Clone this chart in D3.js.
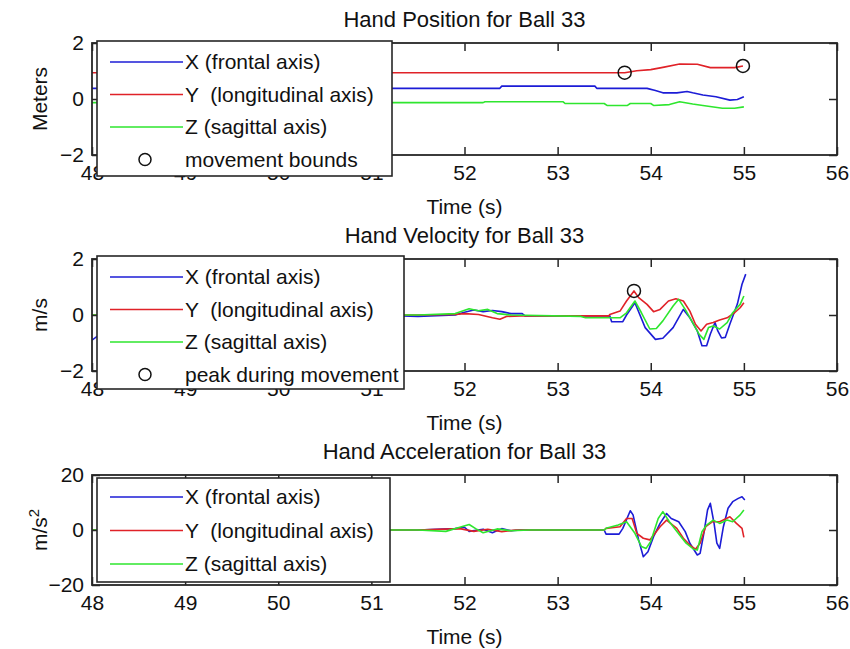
<!DOCTYPE html>
<html>
<head>
<meta charset="utf-8">
<script src="https://cdn.jsdelivr.net/npm/d3@7"></script>
<style>
  html, body { margin: 0; padding: 0; background: #fff; }
  svg { display: block; }
  text { font-family: "Liberation Sans", Arial, Helvetica, sans-serif; fill: #111; white-space: pre; }
</style>
</head>
<body>
<svg id="fig" width="850" height="649"></svg>
<script>
// ---- time axis (seconds) ----
const timeDomain = [48, 56];
const timeTicks = [48, 49, 50, 51, 52, 53, 54, 55, 56];

// ---- hand position (m): [time, value] ----
const posX = [[48,0.38],[52.38,0.38],[52.4,0.46],[53.4,0.46],[53.42,0.38],[53.96,0.38],[54.05,0.3],[54.13,0.22],[54.28,0.22],[54.39,0.27],[54.45,0.22],[54.56,0.14],[54.7,0.08],[54.85,-0.04],[54.93,-0.02],[55.0,0.08]];
const posY = [[48,0.94],[53.72,0.94],[53.85,1.01],[54.0,1.05],[54.13,1.13],[54.31,1.25],[54.5,1.24],[54.64,1.12],[54.9,1.12],[54.99,1.18]];
const posZ = [[48,-0.13],[52.2,-0.13],[52.22,-0.1],[53.06,-0.1],[53.08,-0.16],[53.5,-0.16],[53.53,-0.23],[53.75,-0.23],[53.78,-0.16],[54.0,-0.16],[54.03,-0.23],[54.2,-0.2],[54.31,-0.1],[54.45,-0.18],[54.56,-0.23],[54.77,-0.33],[54.9,-0.33],[55.0,-0.28]];
// movement start / end, marked on the Y trace
const boundsMarks = [[53.72,0.94],[54.99,1.18]];

// ---- hand velocity (m/s) ----
const velX = [[48,-0.9],[48.2,-0.4],[48.5,0],[51.0,0],[51.5,-0.05],[51.9,0],[52.0,0.1],[52.1,0.18],[52.2,0.12],[52.3,0.16],[52.4,0.12],[52.5,0.05],[52.62,0.05],[52.65,-0.03],[53.56,-0.03],[53.58,-0.24],[53.7,-0.24],[53.74,0.0],[53.83,0.44],[53.94,-0.45],[54.05,-0.87],[54.13,-0.83],[54.24,-0.45],[54.35,0.2],[54.42,-0.1],[54.5,-0.57],[54.55,-1.1],[54.6,-1.1],[54.64,-0.68],[54.69,-0.27],[54.72,-0.57],[54.76,-0.82],[54.8,-0.8],[54.85,-0.32],[54.93,0.39],[54.98,1.1],[55.02,1.46]];
const velY = [[48,0],[51.5,0],[51.9,0.02],[52.0,0.05],[52.15,0.02],[52.3,-0.1],[52.38,-0.15],[52.45,-0.05],[52.6,-0.03],[53.55,-0.03],[53.56,0.02],[53.67,0.14],[53.74,0.5],[53.82,0.86],[53.87,0.62],[53.96,0.38],[54.03,0.12],[54.1,0.2],[54.19,0.5],[54.27,0.58],[54.35,0.5],[54.42,0.14],[54.48,-0.33],[54.54,-0.57],[54.6,-0.33],[54.67,-0.27],[54.74,-0.18],[54.82,-0.1],[54.9,0.08],[54.96,0.26],[55.0,0.44]];
const velZ = [[48,0],[51.5,0],[51.9,0.05],[52.05,0.22],[52.15,0.15],[52.25,0.2],[52.35,0.05],[52.5,0],[53.25,-0.05],[53.3,-0.1],[53.55,-0.1],[53.67,-0.1],[53.74,0.08],[53.83,0.5],[53.9,0.08],[53.99,-0.5],[54.06,-0.48],[54.13,-0.21],[54.24,0.32],[54.3,0.56],[54.37,0.2],[54.45,-0.27],[54.52,-0.69],[54.57,-0.87],[54.62,-0.45],[54.67,-0.39],[54.74,-0.5],[54.82,-0.27],[54.88,0.08],[54.96,0.38],[55.0,0.68]];
// peak speed during the movement
const peakMarks = [[53.82,0.86]];

// ---- hand acceleration (m/s^2) ----
const accX = [[48,0],[51.5,0],[51.9,0.5],[52.0,1],[52.05,-0.5],[52.2,0.3],[52.3,-1],[52.4,0.5],[52.5,-0.3],[52.6,0],[53.5,0],[53.52,-1.5],[53.66,-1.5],[53.7,0.6],[53.78,7],[53.81,5.5],[53.87,-3.6],[53.92,-9.7],[53.97,-7.9],[54.03,-2.4],[54.1,2.4],[54.17,6],[54.22,4.2],[54.3,3],[54.37,-0.6],[54.42,-4.8],[54.5,-9.1],[54.53,-8.5],[54.57,-1.2],[54.61,7.3],[54.64,9.7],[54.68,2.4],[54.71,-4.8],[54.74,-6.7],[54.78,1.2],[54.83,7.9],[54.88,10.3],[54.94,11.5],[54.98,12.1],[55.01,10.9]];
const accY = [[48,0],[51.5,0],[51.95,0.5],[52.1,-0.5],[52.25,0.3],[52.4,-0.6],[52.55,0],[53.5,0],[53.52,0.6],[53.67,1.2],[53.74,4.2],[53.8,4.2],[53.85,-1.2],[53.92,-3],[53.99,-3.6],[54.1,1.2],[54.17,3.6],[54.28,0.6],[54.35,-3],[54.42,-5.5],[54.48,-7],[54.53,-4.8],[54.59,1.2],[54.66,3],[54.74,3],[54.85,4.8],[54.92,2.4],[54.98,0.6],[55.0,-2.7]];
const accZ = [[48,0],[51.5,0],[51.8,-0.5],[51.95,1],[52.05,2],[52.12,0.5],[52.2,-1],[52.35,0.4],[52.5,-0.3],[52.7,0],[53.5,0],[53.52,0.6],[53.65,1.8],[53.74,3],[53.83,-1.2],[53.9,-6],[53.95,-6.7],[54.0,-4.2],[54.08,4.2],[54.13,6.7],[54.2,3],[54.31,-1.8],[54.38,-4.8],[54.46,-7],[54.5,-7.3],[54.55,-0.6],[54.6,1.8],[54.67,3.6],[54.74,2.4],[54.82,3.6],[54.88,3],[54.96,5.5],[55.0,7.3]];

// ---- labels ----
const seriesNames = ["X (frontal axis)", "Y  (longitudinal axis)", "Z (sagittal axis)"];
const seriesColors = ["#1c1cd6", "#e02228", "#2ee62e"];
const posTicks = [-2, 0, 2];
const accTicks = [-20, 0, 20];

const panels = [
  { title: "Hand Position for Ball 33", ylabel: "Meters", sup: null,
    yDomain: [-2, 2], yTicks: posTicks, series: [posX, posY, posZ],
    marks: boundsMarks, markName: "movement bounds",
    top: 43, bottom: 155, legend: { x: 97, y: 41, w: 295, h: 135 } },
  { title: "Hand Velocity for Ball 33", ylabel: "m/s", sup: null,
    yDomain: [-2, 2], yTicks: posTicks, series: [velX, velY, velZ],
    marks: peakMarks, markName: "peak during movement",
    top: 259, bottom: 371, legend: { x: 97, y: 256, w: 307, h: 133 } },
  { title: "Hand Acceleration for Ball 33", ylabel: "m/s", sup: "2",
    yDomain: [-20, 20], yTicks: accTicks, series: [accX, accY, accZ],
    marks: null, markName: null,
    top: 475, bottom: 585, legend: { x: 97, y: 478, w: 293, h: 104 } }
];

const left = 92, right = 837;
const fontSize = 21;
const titleSize = 22;
const frameColor = "#262626";
const svg = d3.select("#fig");

const x = d3.scaleLinear().domain(timeDomain).range([left, right]);

panels.forEach((p, pi) => {
  const y = d3.scaleLinear().domain(p.yDomain).range([p.bottom, p.top]);
  const g = svg.append("g");

  // clip lines to the axes box
  const clipId = "clip" + pi;
  svg.append("clipPath").attr("id", clipId)
    .append("rect").attr("x", left).attr("y", p.top)
    .attr("width", right - left).attr("height", p.bottom - p.top);

  // data traces
  const line = d3.line().x(d => x(d[0])).y(d => y(d[1]));
  const traces = g.append("g").attr("clip-path", `url(#${clipId})`);
  p.series.forEach((s, i) => {
    traces.append("path").datum(s)
      .attr("d", line).attr("fill", "none")
      .attr("stroke", seriesColors[i]).attr("stroke-width", 1.6)
      .attr("stroke-linejoin", "round");
  });
  if (p.marks) {
    g.append("g").selectAll("circle").data(p.marks).join("circle")
      .attr("cx", d => x(d[0])).attr("cy", d => y(d[1])).attr("r", 6.5)
      .attr("fill", "none").attr("stroke", "#111").attr("stroke-width", 1.5);
  }

  // axes: ticks point inward on all four sides
  const styleAxis = (sel, showLabels) => {
    sel.select(".domain").remove();
    sel.selectAll(".tick line").attr("stroke", frameColor).attr("stroke-width", 1.5);
    sel.selectAll(".tick text").style("font-size", fontSize + "px")
      .style("font-family", "Liberation Sans, Arial, sans-serif").attr("fill", "#111");
    if (!showLabels) sel.selectAll(".tick text").remove();
  };
  const fmt = d3.format("d");
  g.append("g").attr("transform", `translate(0,${p.bottom})`)
    .call(d3.axisBottom(x).tickValues(timeTicks).tickFormat(fmt).tickSizeInner(-8).tickSizeOuter(0).tickPadding(10))
    .call(s => styleAxis(s, true));
  g.append("g").attr("transform", `translate(0,${p.top})`)
    .call(d3.axisTop(x).tickValues(timeTicks).tickSizeInner(-8).tickSizeOuter(0))
    .call(s => styleAxis(s, false));
  g.append("g").attr("transform", `translate(${left},0)`)
    .call(d3.axisLeft(y).tickValues(p.yTicks).tickFormat(fmt).tickSizeInner(-8).tickSizeOuter(0).tickPadding(8))
    .call(s => styleAxis(s, true));
  g.append("g").attr("transform", `translate(${right},0)`)
    .call(d3.axisRight(y).tickValues(p.yTicks).tickSizeInner(-8).tickSizeOuter(0))
    .call(s => styleAxis(s, false));

  // axes box
  g.append("rect").attr("x", left).attr("y", p.top)
    .attr("width", right - left).attr("height", p.bottom - p.top)
    .attr("fill", "none").attr("stroke", frameColor).attr("stroke-width", 1.8);

  // title and axis labels
  g.append("text").attr("x", (left + right) / 2).attr("y", p.top - 16)
    .attr("text-anchor", "middle").style("font-size", titleSize + "px").text(p.title);
  g.append("text").attr("x", (left + right) / 2).attr("y", p.bottom + 59)
    .attr("text-anchor", "middle").style("font-size", fontSize + "px").text("Time (s)");
  const yl = g.append("text")
    .attr("transform", `translate(47,${(p.top + p.bottom) / 2}) rotate(-90)`)
    .attr("text-anchor", "middle").style("font-size", fontSize + "px");
  yl.append("tspan").text(p.ylabel);
  if (p.sup) yl.append("tspan").attr("dy", -8).style("font-size", "15px").text(p.sup);

  // legend
  const L = p.legend;
  const lg = g.append("g");
  lg.append("rect").attr("x", L.x).attr("y", L.y).attr("width", L.w).attr("height", L.h)
    .attr("fill", "#fff").attr("stroke", frameColor).attr("stroke-width", 1.6);
  const entries = seriesNames.map((n, i) => ({ name: n, color: seriesColors[i], kind: "line" }));
  if (p.markName) entries.push({ name: p.markName, kind: "mark" });
  const rowH = p.markName ? 32.5 : 33.5;
  const firstRow = L.y + (p.markName ? 21 : 19);
  entries.forEach((e, i) => {
    const cy = firstRow + i * rowH;
    if (e.kind === "line") {
      lg.append("line").attr("x1", L.x + 13).attr("x2", L.x + 86)
        .attr("y1", cy).attr("y2", cy)
        .attr("stroke", e.color).attr("stroke-width", 1.6);
    } else {
      lg.append("circle").attr("cx", L.x + 48).attr("cy", cy).attr("r", 6)
        .attr("fill", "none").attr("stroke", "#111").attr("stroke-width", 1.5);
    }
    lg.append("text").attr("x", L.x + 88).attr("y", cy + 7)
      .style("font-size", fontSize + "px").text(e.name);
  });
});
</script>
</body>
</html>
